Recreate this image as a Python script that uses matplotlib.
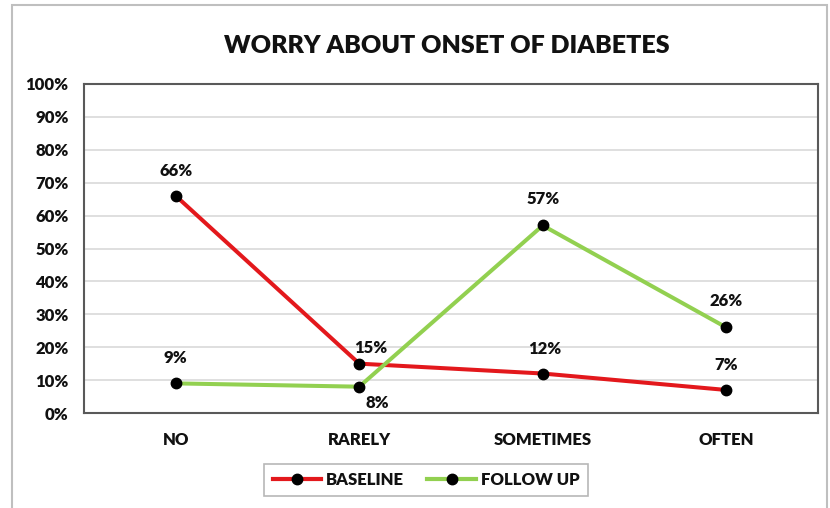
import matplotlib
matplotlib.use("Agg")
import matplotlib.pyplot as plt
from matplotlib.patches import Rectangle
from matplotlib.lines import Line2D

categories = ["NO", "RARELY", "SOMETIMES", "OFTEN"]
baseline = [66, 15, 12, 7]
follow_up = [9, 8, 57, 26]
yticks = [0, 10, 20, 30, 40, 50, 60, 70, 80, 90, 100]
# label offsets in pixels (dx, dy)
baseline_label_off = [(0, 25), (11, 16), (2, 25), (0, 25)]
follow_label_off = [(0, 25), (18, -16), (0, 26), (0, 26)]

plt.rcParams['font.family'] = ['Lato', 'DejaVu Sans']

W, H = 830, 508
fig = plt.figure(figsize=(W / 100, H / 100), dpi=100)

fig.patches.append(Rectangle((12 / W, -0.05), (827 - 12) / W, 1 - 5 / H + 0.05,
                             transform=fig.transFigure, fill=False,
                             edgecolor="#BFBFBF", linewidth=1.5))

L, R, T, B = 84, 818, 84, 413
ax = fig.add_axes([L / W, 1 - B / H, (R - L) / W, (B - T) / H])

x = list(range(len(categories)))
red = "#E3181C"
green = "#92D050"
txt = "#111111"
fs = 12
fw = "heavy"
ax.plot(x, baseline, color=red, linewidth=2.9, marker="o", markersize=7.5,
        markerfacecolor="black", markeredgecolor="black", zorder=3, label="BASELINE")
ax.plot(x, follow_up, color=green, linewidth=2.9, marker="o", markersize=7.5,
        markerfacecolor="black", markeredgecolor="black", zorder=3, label="FOLLOW UP")

for xi, v, o in zip(x, baseline, baseline_label_off):
    ax.annotate(f"{v}%", (xi, v), xytext=o, textcoords="offset pixels",
                ha="center", va="center", fontsize=fs, fontweight=fw, color=txt)
for xi, v, o in zip(x, follow_up, follow_label_off):
    ax.annotate(f"{v}%", (xi, v), xytext=o, textcoords="offset pixels",
                ha="center", va="center", fontsize=fs, fontweight=fw, color=txt)

ax.set_xlim(-0.5, len(categories) - 0.5)
ax.set_ylim(0, 100)
ax.set_yticks(yticks)
ax.set_yticklabels([f"{t}%" for t in yticks], fontsize=fs, fontweight=fw, color=txt)
ax.set_xticks(x)
ax.set_xticklabels(categories, fontsize=fs, fontweight=fw, color=txt)
ax.tick_params(axis="both", length=0)
ax.tick_params(axis="y", pad=11)
ax.tick_params(axis="x", pad=14)
ax.grid(axis="y", color="#D9D9D9", linewidth=1.2)
ax.set_axisbelow(True)
for s in ax.spines.values():
    s.set_color("#595959")
    s.set_linewidth(1.5)

fig.text(447 / W, 1 - 46 / H, "WORRY ABOUT ONSET OF DIABETES", ha="center", va="center",
         fontsize=18, fontweight=fw, color=txt)

leg = fig.legend(handles=[
    Line2D([0], [0], color=red, linewidth=3, marker="o", markersize=7.5,
           markerfacecolor="black", markeredgecolor="black"),
    Line2D([0], [0], color=green, linewidth=3, marker="o", markersize=7.5,
           markerfacecolor="black", markeredgecolor="black")],
    labels=["BASELINE", "FOLLOW UP"], loc="center",
    bbox_to_anchor=(426 / W, 1 - 480 / H), ncol=2, frameon=True, fancybox=False,
    prop={"weight": fw, "size": fs}, handlelength=2.9, handletextpad=0.3,
    columnspacing=1.4, borderpad=0.5)
leg.get_frame().set_edgecolor("#A6A6A6")
leg.get_frame().set_linewidth(1.2)
for t in leg.get_texts():
    t.set_color(txt)

fig.savefig("out.png", dpi=100)
